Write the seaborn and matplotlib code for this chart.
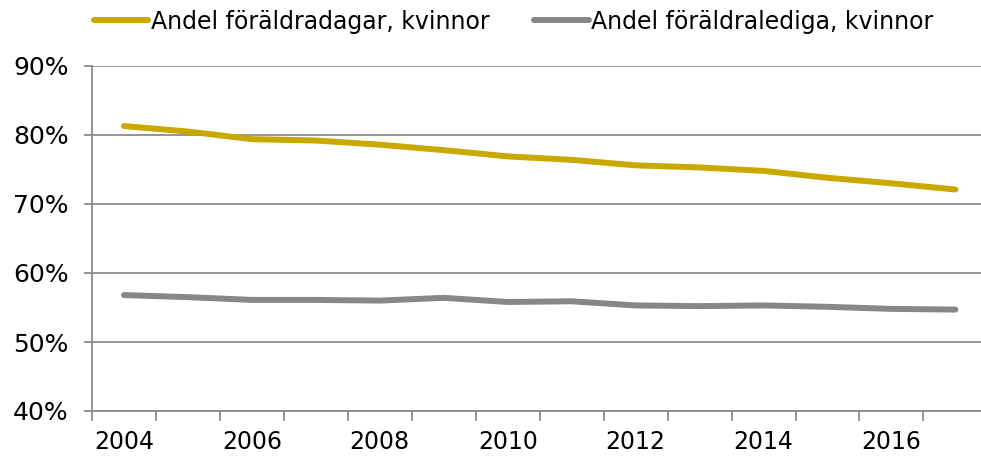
import matplotlib
matplotlib.use("Agg")
import matplotlib.pyplot as plt
import seaborn as sns
import pandas as pd
import numpy as np
from matplotlib.ticker import FixedLocator, FuncFormatter

years = [2004, 2005, 2006, 2007, 2008, 2009, 2010, 2011, 2012, 2013, 2014, 2015, 2016, 2017]
dagar = [81.3, 80.5, 79.4, 79.2, 78.6, 77.8, 76.9, 76.4, 75.6, 75.3, 74.8, 73.8, 73.0, 72.1]
lediga = [56.8, 56.5, 56.1, 56.1, 56.0, 56.4, 55.8, 55.9, 55.3, 55.2, 55.3, 55.1, 54.8, 54.7]
series_names = ["Andel föräldradagar, kvinnor", "Andel föräldralediga, kvinnor"]
colors = ["#C9A800", "#878787"]
tick_years = [2004, 2006, 2008, 2010, 2012, 2014, 2016]

sns.set_theme(style="white")
plt.rcParams["font.family"] = ["DejaVu Sans"]
plt.rcParams["text.color"] = "#000000"

df = pd.DataFrame({
    "idx": list(range(len(years))) * 2,
    "value": dagar + lediga,
    "series": [series_names[0]] * len(years) + [series_names[1]] * len(years),
})

fig = plt.figure(figsize=(9.81, 4.57), dpi=100)
ax = fig.add_axes([92 / 981, 1 - 411 / 457, 1 - 92 / 981, (411 - 66) / 457])

sns.lineplot(data=df, x="idx", y="value", hue="series", palette=colors,
             linewidth=4.3, ax=ax, legend=True)
for ln in ax.get_lines():
    ln.set_solid_capstyle("round")

ax.set_xlim(-0.5, 13.4)
ax.set_ylim(40, 90)
ax.set_yticks([40, 50, 60, 70, 80, 90])
ax.yaxis.set_major_formatter(FuncFormatter(lambda v, p: f"{int(v)}%"))
ax.yaxis.grid(True, color="#8C8C8C", linewidth=1.3)
ax.set_axisbelow(True)

# x ticks at category boundaries, labels at category centres
ax.xaxis.set_major_locator(FixedLocator(np.arange(-0.5, 14, 1.0)))
ax.xaxis.set_major_formatter(FuncFormatter(lambda v, p: ""))
ax.xaxis.set_minor_locator(FixedLocator([years.index(y) for y in tick_years]))
ax.set_xticklabels([str(y) for y in tick_years], minor=True)
ax.tick_params(axis="x", which="major", direction="out", length=7, width=1.3,
               color="#8C8C8C", bottom=True)
ax.tick_params(axis="x", which="minor", length=0, pad=14, labelsize=17, labelcolor="#000000")
ax.tick_params(axis="y", direction="out", length=6, width=1.3, color="#8C8C8C",
               left=True, labelsize=18, labelcolor="#000000", pad=11)

for s in ["top", "right"]:
    ax.spines[s].set_visible(False)
for s in ["left", "bottom"]:
    ax.spines[s].set_color("#8C8C8C")
    ax.spines[s].set_linewidth(1.3)

ax.set_xlabel("")
ax.set_ylabel("")

handles, labels = ax.get_legend_handles_labels()
ax.get_legend().remove()
for h in handles:
    h.set_linewidth(4.3)
fig.legend(handles, labels, loc="upper left", bbox_to_anchor=(80 / 981, 1.01),
           ncol=2, frameon=False, fontsize=17, handlelength=2.3,
           handletextpad=0.1, columnspacing=1.9, borderaxespad=0.2,
           labelcolor="#000000")

fig.savefig("out.png", dpi=100)
